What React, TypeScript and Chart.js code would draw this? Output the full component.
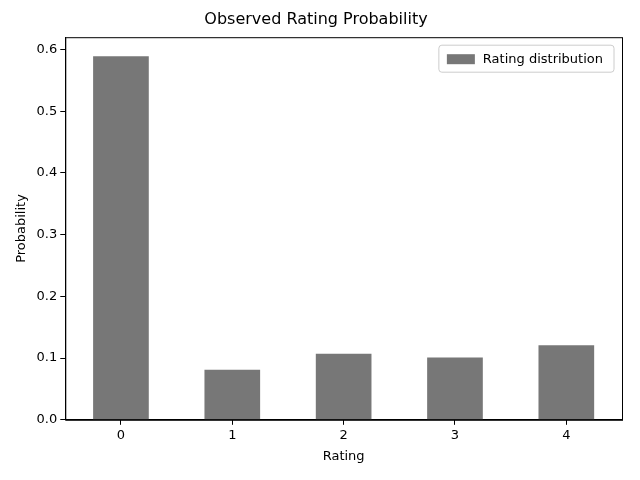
import React, { useEffect, useRef } from "react";
import { Chart, ChartConfiguration, registerables } from "chart.js";

Chart.register(...registerables);

const ratings = ["0", "1", "2", "3", "4"];
const probabilities = [0.589, 0.081, 0.107, 0.101, 0.121];
const yTicks = [0, 0.1, 0.2, 0.3, 0.4, 0.5, 0.6];
const seriesLabel = "Rating distribution";
const barColor = "#777777";
const font = "'DejaVu Sans', sans-serif";

// draws the axes frame and a matplotlib-style legend inside the plot
const framePlugin = {
  id: "frame",
  afterDraw(chart: Chart) {
    const { ctx, chartArea: a } = chart;
    ctx.save();
    ctx.strokeStyle = "#000";
    ctx.lineWidth = 1;
    ctx.strokeRect(a.left + 0.5, a.top + 0.5, a.right - a.left, a.bottom - a.top);
    ctx.font = `13px ${font}`;
    const tw = ctx.measureText(seriesLabel).width;
    const w = tw + 55;
    const h = 27;
    const x = a.right - w - 8;
    const y = a.top + 8;
    ctx.strokeStyle = "#cccccc";
    ctx.fillStyle = "rgba(255,255,255,0.8)";
    ctx.beginPath();
    ctx.roundRect(x, y, w, h, 3);
    ctx.fill();
    ctx.stroke();
    ctx.fillStyle = barColor;
    ctx.fillRect(x + 8, y + 9, 28, 10);
    ctx.fillStyle = "#000";
    ctx.textBaseline = "middle";
    ctx.fillText(seriesLabel, x + 44, y + h / 2 + 1);
    ctx.restore();
  },
};

const App: React.FC = () => {
  const chartRef = useRef<HTMLCanvasElement | null>(null);
  const chartInstance = useRef<Chart | null>(null);

  useEffect(() => {
    document.body.style.margin = "0";
    if (!chartRef.current) return;
    if (chartInstance.current) chartInstance.current.destroy();
    const ctx = chartRef.current.getContext("2d");
    if (!ctx) return;
    const config: ChartConfiguration = {
      type: "bar",
      data: {
        labels: ratings,
        datasets: [
          {
            label: seriesLabel,
            data: probabilities,
            backgroundColor: barColor,
            barPercentage: 0.5,
            categoryPercentage: 1,
          },
        ],
      },
      options: {
        animation: false,
        responsive: false,
        layout: { padding: { left: 10, right: 18, top: 2, bottom: 12 } },
        plugins: {
          legend: { display: false },
          tooltip: { enabled: false },
          title: {
            display: true,
            text: "Observed Rating Probability",
            color: "#000",
            font: { family: font, size: 16, weight: "normal" },
            padding: { top: 8, bottom: 8 },
            align: "center",
          },
        },
        scales: {
          x: {
            grid: { drawOnChartArea: false, tickLength: 5, color: "#000", offset: false },
            border: { color: "#000" },
            ticks: { color: "#000", font: { family: font, size: 13 } },
            title: {
              display: true,
              text: "Rating",
              color: "#000",
              font: { family: font, size: 13 },
              padding: { top: 2 },
            },
          },
          y: {
            min: 0,
            max: 0.62,
            afterBuildTicks: (axis) => {
              axis.ticks = yTicks.map((v) => ({ value: v }));
            },
            grid: { drawOnChartArea: false, tickLength: 5, color: "#000" },
            border: { color: "#000" },
            ticks: {
              color: "#000",
              font: { family: font, size: 13 },
              callback: (v) => Number(v).toFixed(1),
            },
            title: {
              display: true,
              text: "Probability",
              color: "#000",
              font: { family: font, size: 13 },
            },
          },
        },
      },
      plugins: [framePlugin],
    };
    chartInstance.current = new Chart(ctx, config);
    return () => {
      if (chartInstance.current) chartInstance.current.destroy();
    };
  }, []);

  return <canvas ref={chartRef} width={640} height={480}></canvas>;
};

export default App;
